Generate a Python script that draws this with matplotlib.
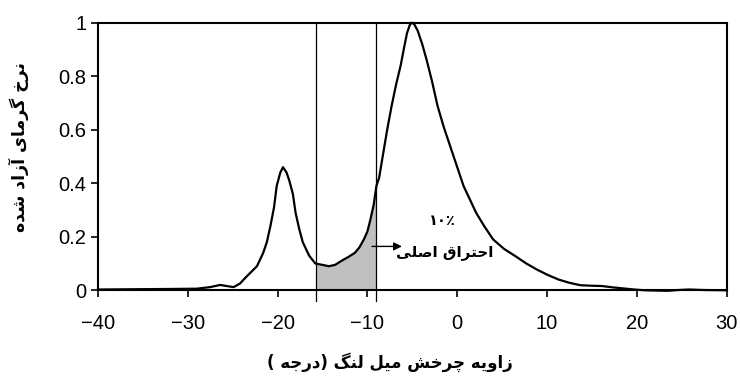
import matplotlib
matplotlib.use("Agg")
import matplotlib.pyplot as plt
import numpy as np

# crank angle (deg) and normalised heat release rate
angle = [-40, -36, -32, -29, -27.5, -26.4, -25.5, -24.9, -24.2, -23.5, -22.9, -22.3, -21.6,
         -21.2, -20.8, -20.4, -20.1, -19.7, -19.4, -19.0, -18.7, -18.3, -18.0, -17.6, -17.2,
         -16.5, -15.8, -15.0, -14.3, -13.6, -12.9, -12.1, -11.4, -10.9, -10.4, -10.0, -9.7,
         -9.3, -9.0, -8.7, -8.3, -7.8, -7.3, -6.8, -6.3, -5.9, -5.6, -5.3, -5.1, -4.8, -4.4,
         -3.9, -3.4, -2.8, -2.2, -1.5, -0.8, 0.0, 0.7, 1.4, 2.1, 3.0, 4.0, 5.2, 6.5, 7.7,
         8.9, 10.1, 11.3, 12.5, 13.7, 15.0, 16.1, 17.3, 18.5, 19.7, 20.9, 22.2, 23.4, 24.6,
         25.8, 27.5, 30]
heat = [0.003, 0.004, 0.005, 0.006, 0.012, 0.02, 0.015, 0.012, 0.025, 0.05, 0.07, 0.09, 0.14,
        0.18, 0.24, 0.31, 0.39, 0.44, 0.46, 0.44, 0.41, 0.36, 0.29, 0.23, 0.18,
        0.13, 0.10, 0.095, 0.09, 0.095, 0.11, 0.125, 0.14, 0.16, 0.19, 0.22, 0.26,
        0.32, 0.39, 0.42, 0.50, 0.60, 0.69, 0.77, 0.84, 0.91, 0.96, 0.99, 1.0, 0.995, 0.97,
        0.92, 0.86, 0.78, 0.69, 0.61, 0.54, 0.46, 0.39, 0.34, 0.29, 0.24, 0.19, 0.155, 0.127, 0.10,
        0.077, 0.057, 0.04, 0.028, 0.019, 0.017, 0.016, 0.011, 0.007, 0.003, 0.0, -0.001, -0.002, 0.001,
        0.003, 0.001, 0.0]

shade_start, shade_end = -15.7, -9.1
xticks = [-40, -30, -20, -10, 0, 10, 20, 30]
yticks = [0, 0.2, 0.4, 0.6, 0.8, 1.0]
ytick_labels = ["0", "0.2", "0.4", "0.6", "0.8", "1"]

xlabel_fa = "زاویه چرخش میل لنگ (درجه )"
ylabel_fa = "نرخ گرمای آزاد شده"
note_fa = "احتراق اصلی"
note_pct = "۱۰٪"

# isolated, final, initial, medial presentation forms
FORMS = {
    'ا': ('\uFE8D', '\uFE8E', None, None),
    'آ': ('\uFE81', '\uFE82', None, None),
    'ت': ('\uFE95', '\uFE96', '\uFE97', '\uFE98'),
    'ج': ('\uFE9D', '\uFE9E', '\uFE9F', '\uFEA0'),
    'چ': ('\uFB7A', '\uFB7B', '\uFB7C', '\uFB7D'),
    'ح': ('\uFEA1', '\uFEA2', '\uFEA3', '\uFEA4'),
    'خ': ('\uFEA5', '\uFEA6', '\uFEA7', '\uFEA8'),
    'د': ('\uFEA9', '\uFEAA', None, None),
    'ر': ('\uFEAD', '\uFEAE', None, None),
    'ز': ('\uFEAF', '\uFEB0', None, None),
    'ش': ('\uFEB5', '\uFEB6', '\uFEB7', '\uFEB8'),
    'ص': ('\uFEB9', '\uFEBA', '\uFEBB', '\uFEBC'),
    'ق': ('\uFED5', '\uFED6', '\uFED7', '\uFED8'),
    'گ': ('\uFB92', '\uFB93', '\uFB94', '\uFB95'),
    'ل': ('\uFEDD', '\uFEDE', '\uFEDF', '\uFEE0'),
    'م': ('\uFEE1', '\uFEE2', '\uFEE3', '\uFEE4'),
    'ن': ('\uFEE5', '\uFEE6', '\uFEE7', '\uFEE8'),
    'ه': ('\uFEE9', '\uFEEA', '\uFEEB', '\uFEEC'),
    'و': ('\uFEED', '\uFEEE', None, None),
    'ی': ('\uFEEF', '\uFEF0', '\uFEF3', '\uFEF4'),
}


def farsi(s):
    # simple shaping + right-to-left ordering, no external libs needed
    out = []
    for i, c in enumerate(s):
        if c not in FORMS:
            out.append(c)
            continue
        prev = s[i - 1] if i > 0 else ''
        nxt = s[i + 1] if i + 1 < len(s) else ''
        jp = prev in FORMS and FORMS[prev][2] is not None
        jn = FORMS[c][2] is not None and nxt in FORMS
        iso, fin, ini, med = FORMS[c]
        out.append(med if jp and jn else fin if jp else ini if jn else iso)
    vis = ''.join(reversed(out))
    return vis.translate(str.maketrans('()', ')('))


plt.rcParams['font.family'] = ['Liberation Sans', 'DejaVu Sans']

fig, ax = plt.subplots(figsize=(7.4, 3.78), dpi=100)
fig.subplots_adjust(left=0.1324, right=0.982, bottom=0.232, top=0.94)

ax.plot(angle, heat, color='black', lw=1.6, clip_on=False, zorder=3)

a = np.array(angle)
h = np.array(heat)
mask = (a >= shade_start) & (a <= shade_end)
xs = np.concatenate([[shade_start], a[mask], [shade_end]])
ys = np.concatenate([[np.interp(shade_start, a, h)], h[mask], [np.interp(shade_end, a, h)]])
ax.fill_between(xs, 0, ys, color='#c0c0c0', zorder=2)

for xv in (shade_start, shade_end):
    ax.plot([xv, xv], [-0.04, 1.0], color='black', lw=0.9, clip_on=False, zorder=4)

ax.annotate('', xy=(-5.85, 0.164), xytext=(-9.8, 0.164),
            arrowprops=dict(arrowstyle='-|>', color='black', lw=1.0, mutation_scale=12))
ax.text(-1.4, 0.14, farsi(note_fa), ha='center', va='center', fontsize=11,
        family='DejaVu Sans', fontweight='bold')
ax.text(-1.6, 0.262, note_pct, ha='center', va='center', fontsize=10.5,
        family='DejaVu Sans', fontweight='bold')

ax.set_xlim(-40, 30)
ax.set_ylim(0, 1)
ax.set_xticks(xticks)
ax.set_yticks(yticks)
ax.set_yticklabels(ytick_labels)
ax.tick_params(direction='out', length=5, width=1.2, labelsize=14.5, colors='black')
ax.tick_params(axis='x', pad=12)
for s in ('left', 'bottom', 'top', 'right'):
    ax.spines[s].set_linewidth(1.5)

fig.text(390 / 740, 1 - 362 / 378, farsi(xlabel_fa), ha='center', va='center',
         fontsize=12, family='DejaVu Sans', fontweight='bold')
fig.text(19 / 740, 1 - 147 / 378, farsi(ylabel_fa), ha='center', va='center', rotation=90,
         fontsize=12.5, family='DejaVu Sans', fontweight='bold')

fig.savefig('out.png', dpi=100)
